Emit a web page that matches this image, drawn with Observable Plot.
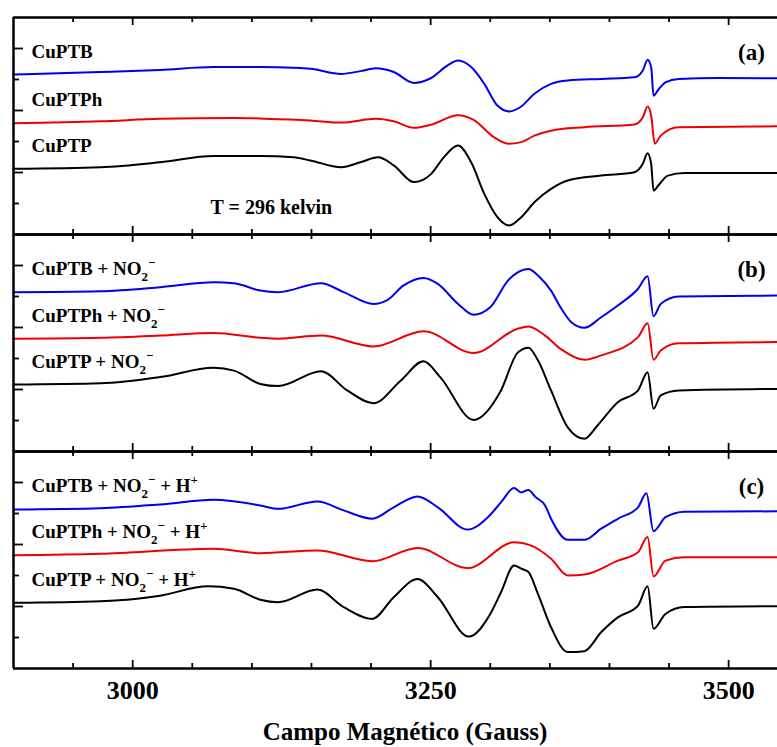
<!DOCTYPE html>
<html>
<head>
<meta charset="utf-8">
<script src="https://cdn.jsdelivr.net/npm/d3@7"></script>
<script src="https://cdn.jsdelivr.net/npm/@observablehq/plot@0.6"></script>
<style>
  body { margin: 0; background: #fff; overflow: hidden; }
  #wrap { position: relative; width: 777px; height: 747px; }
  #chart svg text { font-family: "Liberation Serif", "Times New Roman", serif; }
  #xlabel { position: absolute; left: 0; top: 719px; width: 810px; text-align: center;
            font: bold 25px "Liberation Serif", "Times New Roman", serif; line-height: 1; color: #000; }
</style>
</head>
<body>
<div id="wrap"><div id="chart"></div><div id="xlabel"></div></div>
<script>
// ---- categories / labels ----
const panels = ["a", "b", "c"];
const panelTags = ["(a)", "(b)", "(c)"];
const seriesNames = ["CuPTB", "CuPTPh", "CuPTP"];
const seriesColors = ["#0000ee", "#ee0000", "#000000"];
const labelsA = ["CuPTB", "CuPTPh", "CuPTP"];
const labelsB = ["CuPTB + NO₂⁻", "CuPTPh + NO₂⁻", "CuPTP + NO₂⁻"];
const labelsC = ["CuPTB + NO₂⁻ + H⁺", "CuPTPh + NO₂⁻ + H⁺", "CuPTP + NO₂⁻ + H⁺"];
const tempNote = "T = 296 kelvin";
const xTitle = "Campo Magnético (Gauss)";
const xDomain = [2900, 3541];
const yDomain = [0, 70];
const xMajorTicks = [3000, 3250, 3500];
const xMinorTicks = [2950, 3050, 3100, 3150, 3200, 3300, 3350, 3400, 3450];
const yMajorTicks = [20, 40, 60];
const yMinorTicks = [10, 30, 50];

// ---- spectra: [field (G), intensity (a.u., offset)] ----
const aBlue = [[2900,51.6],[2973,52.4],[3023,53.1],[3068,54.0],[3107,54.0],[3135,53.8],[3149,53.5],[3175,51.8],[3191,52.7],[3204,53.6],[3219,52.4],[3236,48.9],[3250,50.4],[3264,54.5],[3273,56.1],[3284,54.0],[3295,48.6],[3306,41.6],[3316,39.7],[3326,41.3],[3337,45.4],[3351,48.6],[3365,49.7],[3393,50.2],[3421,50.7],[3428,52.9],[3432,56.4],[3435,54.0],[3437,44.8],[3441,46.7],[3447,49.1],[3458,50.2],[3491,50.5],[3541,50.4]];
const aRed = [[2900,35.9],[2973,36.5],[3023,37.3],[3085,37.6],[3107,37.4],[3149,36.8],[3175,36.1],[3204,37.3],[3219,36.5],[3236,34.4],[3250,35.4],[3273,38.5],[3286,37.0],[3303,31.4],[3315,29.3],[3326,29.8],[3337,31.9],[3351,33.5],[3379,34.6],[3421,35.5],[3428,37.8],[3432,41.3],[3435,38.4],[3438,29.3],[3443,31.9],[3458,34.6],[3541,34.9]];
const aBlack = [[2900,21.2],[2973,21.7],[3023,23.3],[3068,25.3],[3107,25.3],[3135,24.9],[3149,23.9],[3175,21.7],[3191,23.3],[3206,24.9],[3219,22.3],[3236,16.9],[3250,19.4],[3261,24.9],[3273,28.7],[3284,23.3],[3295,13.1],[3306,5.6],[3316,2.9],[3326,5.6],[3337,10.4],[3351,14.7],[3365,17.4],[3393,19.0],[3421,20.1],[3428,22.8],[3432,26.2],[3435,22.8],[3437,14.2],[3441,15.8],[3449,19.0],[3463,19.8],[3541,19.8]];

const bBlue = [[2900,51.4],[2973,51.7],[3023,53.0],[3068,54.6],[3085,54.3],[3107,51.9],[3122,51.4],[3158,54.3],[3177,51.4],[3202,47.6],[3214,48.9],[3227,53.5],[3244,56.0],[3256,54.1],[3273,47.6],[3286,44.1],[3300,46.5],[3315,55.2],[3323,57.8],[3332,58.9],[3340,56.8],[3351,51.9],[3359,46.5],[3368,41.7],[3379,39.9],[3393,43.3],[3407,47.1],[3424,52.5],[3432,56.5],[3437,43.6],[3443,47.6],[3458,50.0],[3541,50.3]];
const bRed = [[2900,36.4],[2973,36.7],[3023,37.4],[3068,38.2],[3107,36.7],[3122,36.4],[3158,37.4],[3202,33.9],[3244,38.8],[3286,31.8],[3323,39.6],[3332,40.3],[3346,37.4],[3359,33.1],[3379,29.6],[3393,31.0],[3424,36.9],[3432,41.4],[3437,29.6],[3443,32.6],[3458,34.9],[3541,35.3]];
const bBlack = [[2900,21.6],[2973,22.0],[3023,24.0],[3068,27.0],[3085,26.1],[3107,21.8],[3122,21.1],[3158,25.9],[3180,19.7],[3202,15.6],[3225,22.9],[3244,29.1],[3258,24.0],[3286,10.2],[3309,19.7],[3323,31.9],[3332,33.5],[3340,29.4],[3351,19.7],[3365,7.8],[3379,4.1],[3390,8.4],[3407,15.9],[3424,19.7],[3432,25.6],[3437,13.8],[3443,18.1],[3458,19.7],[3541,20.2]];

const cBlue = [[2900,51.3],[2973,51.7],[3023,52.9],[3068,54.4],[3107,52.6],[3122,51.5],[3155,53.9],[3177,51.0],[3201,48.3],[3219,52.0],[3239,55.5],[3256,52.0],[3281,44.8],[3298,48.8],[3309,53.6],[3320,58.2],[3326,56.8],[3332,57.6],[3338,55.3],[3346,52.6],[3351,48.3],[3365,41.5],[3379,41.5],[3393,45.1],[3407,48.3],[3424,52.0],[3431,56.5],[3437,44.3],[3447,48.8],[3463,50.6],[3541,50.7]];
const cRed = [[2900,36.5],[2973,37.0],[3068,38.6],[3107,37.2],[3155,38.1],[3201,34.6],[3239,38.9],[3281,32.4],[3320,40.7],[3334,39.7],[3351,35.4],[3365,30.0],[3379,30.3],[3407,34.8],[3424,37.5],[3432,42.4],[3437,29.7],[3447,34.8],[3463,35.9],[3541,35.9]];
const cBlack = [[2900,21.2],[2973,21.7],[3023,23.5],[3063,26.5],[3085,25.7],[3107,22.2],[3122,21.4],[3155,25.5],[3177,19.8],[3201,16.0],[3219,23.0],[3239,28.9],[3256,23.0],[3282,10.3],[3300,17.6],[3309,24.6],[3320,33.2],[3326,32.2],[3332,31.1],[3340,24.1],[3351,13.3],[3365,5.3],[3379,5.6],[3393,11.7],[3407,16.5],[3424,20.3],[3432,26.5],[3437,12.8],[3447,17.6],[3463,19.8],[3541,20.1]];

// ---- build tables ----
const spectraByPanel = [[aBlue, aRed, aBlack], [bBlue, bRed, bBlack], [cBlue, cRed, cBlack]];
const labelsByPanel = [labelsA, labelsB, labelsC];
const rows = [];
const labelRows = [];
panels.forEach((p, pi) => {
  spectraByPanel[pi].forEach((pts, si) => {
    pts.forEach(([field, intensity]) => rows.push({panel: p, series: seriesNames[si], field, intensity}));
    labelRows.push({panel: p, label: labelsByPanel[pi][si], field: pts[0][0], intensity: pts[0][1]});
  });
});
const tagRows = panels.map((p, i) => ({panel: p, tag: panelTags[i]}));
const noteRows = [{panel: "a", note: tempNote}];

const FONT = "Liberation Serif";
const FACET_H = (747 - 17 - 79) / 3;

const chart = Plot.plot({
  width: 777, height: 747,
  marginLeft: 13, marginRight: 0, marginTop: 17, marginBottom: 79,
  style: {fontFamily: FONT, background: "#fff", color: "#000"},
  x: {domain: xDomain, axis: null},
  y: {domain: yDomain, axis: null},
  fy: {domain: panels, padding: 0, axis: null},
  color: {domain: seriesNames, range: seriesColors},
  marks: [
    Plot.line(rows, {x: "field", y: "intensity", z: "series", stroke: "series", fy: "panel", curve: "monotone-x", strokeWidth: 2}),
    Plot.ruleY(yDomain, {strokeWidth: 2.5}),
    Plot.ruleX([xDomain[0]], {strokeWidth: 2.5}),
    Plot.tickX(xMajorTicks, {strokeWidth: 1.8, insetBottom: FACET_H - 8}),
    Plot.tickX(xMajorTicks, {strokeWidth: 1.8, insetTop: FACET_H - 8}),
    Plot.tickX(xMinorTicks, {strokeWidth: 1.8, insetBottom: FACET_H - 5}),
    Plot.tickX(xMinorTicks, {strokeWidth: 1.8, insetTop: FACET_H - 5}),
    Plot.tickY(yMajorTicks, {strokeWidth: 1.8, insetRight: 764 - 10}),
    Plot.tickY(yMinorTicks, {strokeWidth: 1.8, insetRight: 764 - 6}),
    Plot.axisX(xMajorTicks, {anchor: "bottom", tickSize: 0, tickPadding: 12, fontSize: 26, fontWeight: "bold",
      fontFamily: FONT, label: null, tickFormat: d => String(d)}),
    Plot.text(labelRows, {x: "field", y: "intensity", fy: "panel", text: "label", dx: 18, dy: -17,
      textAnchor: "start", lineAnchor: "bottom", fontSize: 19, fontWeight: "bold", fontFamily: FONT, fill: "#000"}),
    Plot.text(tagRows, {fy: "panel", text: "tag", frameAnchor: "top-right", dx: -26, dy: 35,
      textAnchor: "middle", lineAnchor: "middle", fontSize: 23, fontWeight: "bold", fontFamily: FONT, fill: "#000"}),
    Plot.text(noteRows, {fy: "panel", text: "note", frameAnchor: "bottom-left", dx: 197, dy: -21,
      textAnchor: "start", lineAnchor: "bottom", fontSize: 20, fontWeight: "bold", fontFamily: FONT, fill: "#000"})
  ]
});

// render sub/superscripts as shifted tspans (text stays real text)
const NS = "http://www.w3.org/2000/svg";
const SPECIAL = {"₂": ["2", 6], "⁻": ["−", -8], "⁺": ["+", -8]};
chart.querySelectorAll("text").forEach(t => {
  const s = t.textContent;
  if (!/[₂⁻⁺]/.test(s)) return;
  t.textContent = "";
  let shift = 0, buf = "";
  const add = (txt, target, small) => {
    const ts = document.createElementNS(NS, "tspan");
    ts.textContent = txt;
    if (target !== shift) ts.setAttribute("dy", target - shift);
    if (small) ts.setAttribute("font-size", "13");
    shift = target;
    t.appendChild(ts);
  };
  for (const ch of s) {
    if (SPECIAL[ch]) {
      if (buf) { add(buf, 0, false); buf = ""; }
      add(SPECIAL[ch][0], SPECIAL[ch][1], true);
    } else buf += ch;
  }
  if (buf) add(buf, 0, false);
});

document.getElementById("chart").appendChild(chart);
document.getElementById("xlabel").textContent = xTitle;
</script>
</body>
</html>
